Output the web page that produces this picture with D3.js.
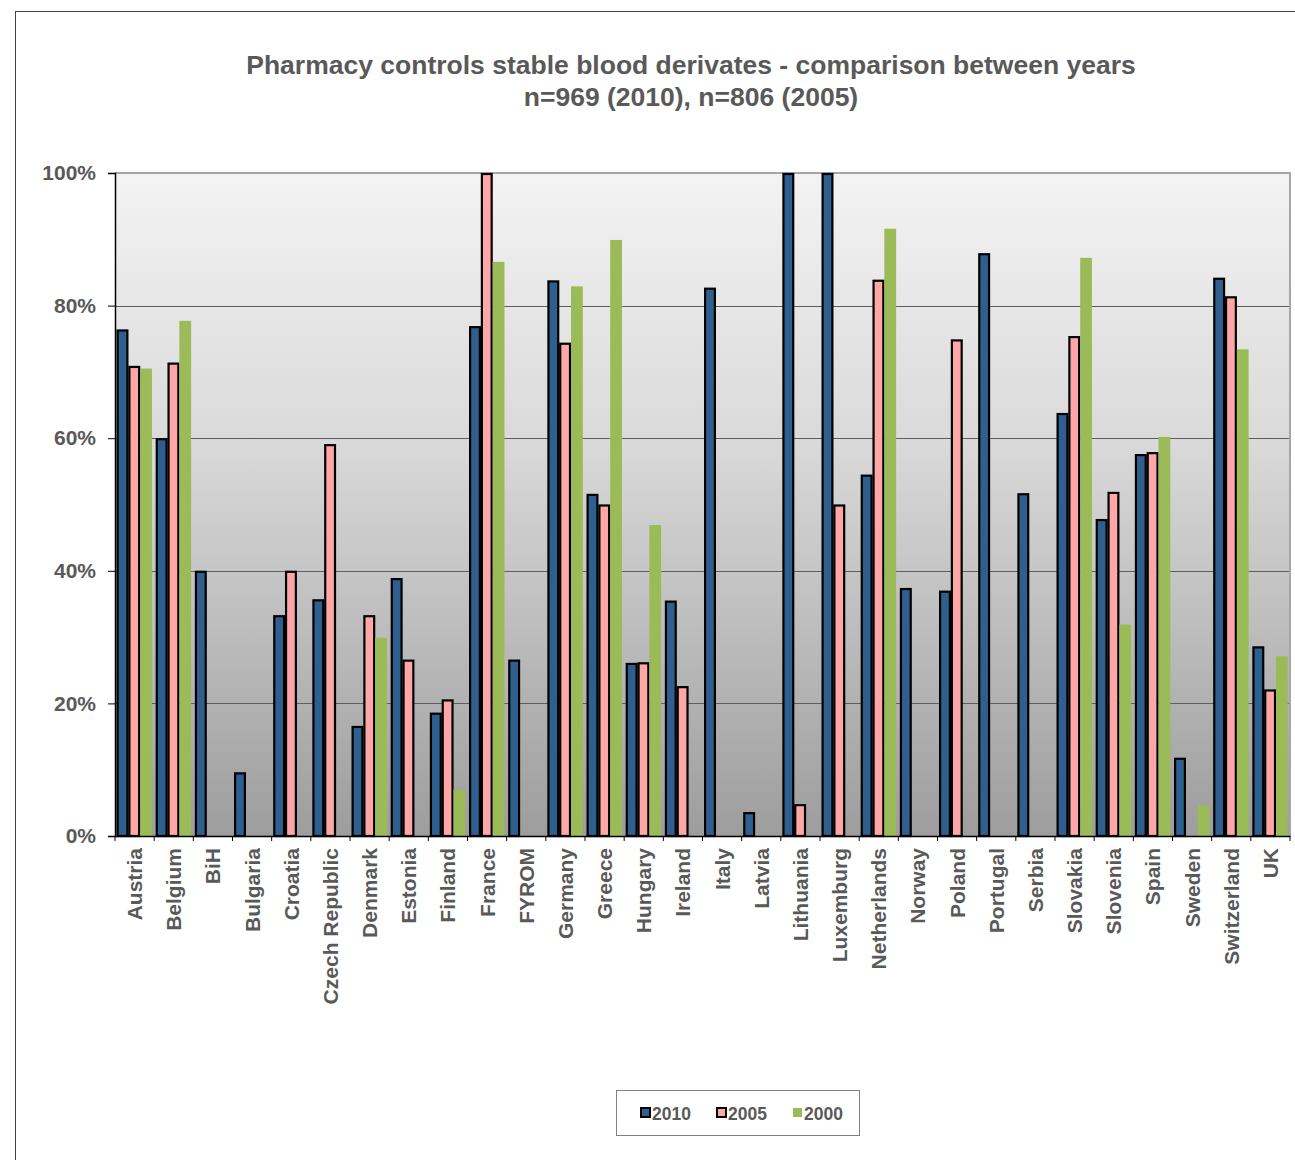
<!DOCTYPE html>
<html><head><meta charset="utf-8">
<script src="https://cdn.jsdelivr.net/npm/d3@7"></script>
<style>body{margin:0;background:#fff}svg{display:block}</style>
</head><body>
<svg id="c" width="1295" height="1160"></svg>
<script>
const categories = ["Austria","Belgium","BiH","Bulgaria","Croatia","Czech Republic","Denmark","Estonia","Finland","France","FYROM","Germany","Greece","Hungary","Ireland","Italy","Latvia","Lithuania","Luxemburg","Netherlands","Norway","Poland","Portugal","Serbia","Slovakia","Slovenia","Spain","Sweden","Switzerland","UK"];
const seriesNames = ["2010","2005","2000"];
const values2010 = [76.4,60.0,40.0,9.6,33.3,35.7,16.6,38.9,18.6,76.9,26.6,83.8,51.6,26.1,35.5,82.7,3.6,100,100,54.5,37.4,37.0,87.9,51.7,63.8,47.8,57.6,11.8,84.2,28.6];
const values2005 = [70.9,71.4,null,null,40.0,59.1,33.3,26.6,20.6,100,null,74.4,50.0,26.2,22.6,null,null,4.8,50.0,83.9,null,74.9,null,null,75.4,51.9,57.9,null,81.4,22.1];
const values2000 = [70.5,77.7,null,null,null,null,29.9,null,7.0,86.6,null,82.9,89.9,46.9,null,null,null,null,null,91.6,null,null,null,null,87.2,31.9,60.2,4.6,73.4,27.1];
const yTicks = [0,20,40,60,80,100];
const titleLines = ["Pharmacy controls stable blood derivates - comparison between years","n=969 (2010), n=806 (2005)"];

const seriesValues = [values2010, values2005, values2000];
const fills = ["#2F5F8F","#FFA6A6","#9BBB59"];
const strokes = ["#000","#000","none"];
const font = "'Liberation Sans', Arial, sans-serif";
const textCol = "#595959";

const svg = d3.select("#c");
const m = {left:115, right:1290, top:173, bottom:836};

// outer frame
svg.append("line").attr("x1",15).attr("x2",1295).attr("y1",11.5).attr("y2",11.5).attr("stroke","#404040");
svg.append("line").attr("x1",15.5).attr("x2",15.5).attr("y1",11).attr("y2",1160).attr("stroke","#404040");

// title
svg.append("g").selectAll("text").data(titleLines).join("text")
  .attr("x",691).attr("y",(d,i)=>74+i*32).attr("text-anchor","middle")
  .attr("font-family",font).attr("font-weight","bold").attr("font-size",26.5)
  .attr("fill",textCol).text(d=>d);

const x0 = d3.scaleBand().domain(categories).range([m.left,m.right]).padding(0);
const x1 = d3.scaleBand().domain(seriesNames).range([1.6, x0.bandwidth()-2.2]).padding(0);
const y = d3.scaleLinear().domain([0,100]).range([m.bottom,m.top]);

// background gradient
const defs = svg.append("defs");
const g = defs.append("linearGradient").attr("id","bg").attr("x1",0).attr("y1",0).attr("x2",0).attr("y2",1);
g.append("stop").attr("offset","0").attr("stop-color","#F3F3F3");
g.append("stop").attr("offset","0.4").attr("stop-color","#DADADA");
g.append("stop").attr("offset","1").attr("stop-color","#9D9D9D");
svg.append("rect").attr("x",m.left).attr("y",m.top).attr("width",m.right-m.left).attr("height",m.bottom-m.top).attr("fill","url(#bg)");

// gridlines
svg.append("g").selectAll("line").data(yTicks.filter(t=>t>0&&t<100)).join("line")
  .attr("x1",m.left).attr("x2",m.right).attr("y1",d=>Math.round(y(d))+0.5).attr("y2",d=>Math.round(y(d))+0.5)
  .attr("stroke","#5E5E5E").attr("stroke-width",1);
// plot border top & right
svg.append("path").attr("d",`M${m.left},${m.top}H${m.right}V${m.bottom}`).attr("fill","none").attr("stroke","#A6A6A6").attr("stroke-width",2);

// bars
seriesNames.forEach((s,si)=>{
  const data = categories.map((c,i)=>({c, v:seriesValues[si][i]})).filter(d=>d.v!==null);
  svg.append("g").selectAll("rect").data(data).join("rect")
    .attr("x",d=>x0(d.c)+x1(s)+(si<2?1:0))
    .attr("width",x1.bandwidth()-(si<2?2:0))
    .attr("y",d=>y(d.v)+(si<2?1:0))
    .attr("height",d=>y(0)-y(d.v)-(si<2?1:0))
    .attr("fill",fills[si]).attr("stroke",strokes[si]).attr("stroke-width",2.2);
});

// y axis
const ya = svg.append("g").attr("transform",`translate(${m.left},0)`)
  .call(d3.axisLeft(y).tickValues(yTicks).tickFormat(d=>d+"%").tickSize(7).tickPadding(12));
ya.select(".domain").attr("stroke","#000").attr("stroke-width",1.5);
ya.selectAll(".tick line").attr("stroke","#000");
ya.selectAll("text").attr("font-family",font).attr("font-weight","bold").attr("font-size",21).attr("fill",textCol);

// x axis
const xa = svg.append("g").attr("transform",`translate(0,${m.bottom})`)
  .call(d3.axisBottom(x0).tickSize(0).tickFormat(""));
xa.select(".domain").attr("stroke","#000").attr("stroke-width",1.5);
svg.append("g").selectAll("line").data(categories.concat(["_end"])).join("line")
  .attr("x1",(d,i)=>m.left+i*x0.bandwidth()).attr("x2",(d,i)=>m.left+i*x0.bandwidth())
  .attr("y1",m.bottom).attr("y2",m.bottom+5).attr("stroke","#000");
svg.append("g").selectAll("text").data(categories).join("text")
  .attr("transform",d=>`translate(${x0(d)+x0.bandwidth()/2+7.5},${m.bottom+12}) rotate(-90)`)
  .attr("text-anchor","end")
  .attr("font-family",font).attr("font-weight","bold").attr("font-size",21).attr("fill",textCol)
  .text(d=>d);

// legend
const lg = svg.append("g");
lg.append("rect").attr("x",616.5).attr("y",1090.5).attr("width",243).attr("height",45).attr("fill","#fff").attr("stroke","#808080");
const lx = [640,716,792];
seriesNames.forEach((s,i)=>{
  lg.append("rect").attr("x",lx[i]+1).attr("y",1108).attr("width",9).attr("height",9)
    .attr("fill",fills[i]).attr("stroke",i<2?"#000":"none").attr("stroke-width",2);
  lg.append("text").attr("x",lx[i]+12).attr("y",1119.5).attr("font-family",font).attr("font-weight","bold")
    .attr("font-size",17.5).attr("fill",textCol).text(s);
});
</script>
</body></html>
